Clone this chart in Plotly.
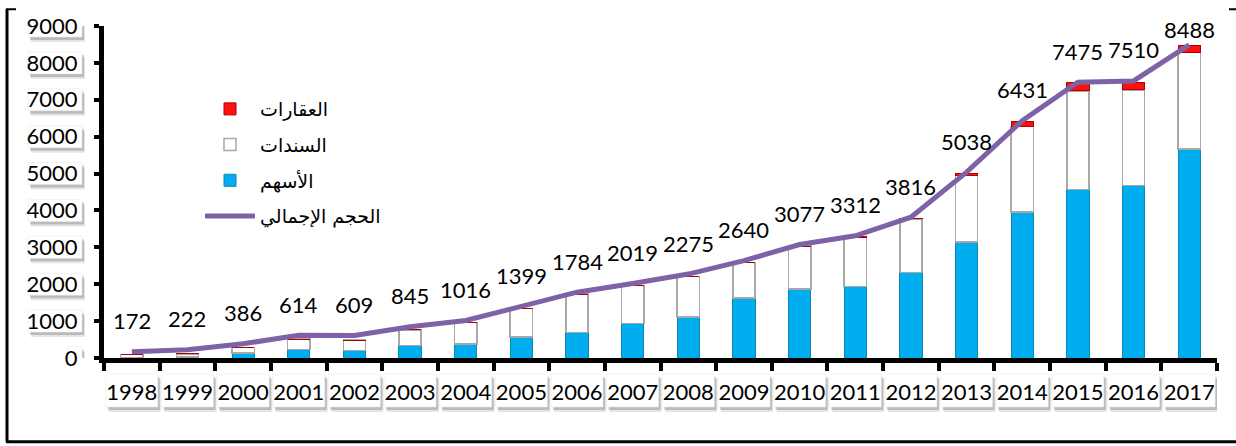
import plotly.graph_objects as go

years = [str(y) for y in range(1998, 2018)]
stocks = [20, 30, 130, 227, 200, 334, 380, 575, 690, 930, 1110, 1626, 1877, 1939, 2321, 3142, 3960, 4567, 4674, 5663]
bonds = [70, 80, 160, 286, 287, 428, 577, 767, 1043, 1035, 1096, 962, 1158, 1340, 1450, 1818, 2318, 2673, 2593, 2620]
real_estate = [0, 0, 0, 0, 0, 0, 0, 0, 0, 0, 0, 0, 0, 15, 20, 40, 145, 225, 214, 187]
totals = [172, 222, 386, 614, 609, 845, 1016, 1399, 1784, 2019, 2275, 2640, 3077, 3312, 3816, 5038, 6431, 7475, 7510, 8488]
y_ticks = list(range(0, 9001, 1000))

names = {"total": "الحجم الإجمالي", "stocks": "الأسهم", "bonds": "السندات", "re": "العقارات"}

WIDTH, HEIGHT = 1236, 446
L, R, T, B = 104, 19, 21, 88
W = WIDTH - L - R
H = HEIGHT - T - B

def xp(px):
    return (px - L) / W

def yp(py):
    return (HEIGHT - B - py) / H

FONT = "Lato, 'DejaVu Sans', sans-serif"

fig = go.Figure()
fig.add_trace(go.Scatter(x=years, y=totals, name=names["total"], mode="lines", legendrank=4, legendgroup="g4",
                         line=dict(color="#7E62A6", width=5)))
fig.add_trace(go.Bar(x=years, y=stocks, name=names["stocks"], legendrank=3, legendgroup="g3",
                     marker=dict(color="#00AEEF", line=dict(color="#1186B0", width=1))))
fig.add_trace(go.Bar(x=years, y=bonds, name=names["bonds"], legendrank=2, legendgroup="g2",
                     marker=dict(color="#FFFFFF", line=dict(color="#A8A8A8", width=1.5))))
fig.add_trace(go.Bar(x=years, y=real_estate, name=names["re"], legendrank=1, legendgroup="g1",
                     marker=dict(color="#FF1010", line=dict(color="#B00000", width=1))))

ymax = 9000
for i, v in enumerate(totals):
    shift = 31 if v < 0.9 * ymax else 15
    fig.add_annotation(x=i, y=v, xref="x", yref="y", text=str(v), showarrow=False, yshift=shift,
                       xanchor="center", yanchor="middle",
                       font=dict(family=FONT, size=22, color="#000000"))

shapes = []
# x tick-label boxes with shadows (anchored at category index)
for i, yr in enumerate(years):
    for dx, dy, col in [(3, -5, "rgba(0,0,0,0.10)"), (2, -3, "rgba(0,0,0,0.18)")]:
        shapes.append(dict(type="rect", xref="x", yref="paper", xsizemode="pixel", ysizemode="pixel",
                           xanchor=i, yanchor=0, x0=-26 + dx, x1=26 + dx, y0=-16 + dy, y1=-49 + dy,
                           fillcolor=col, line=dict(width=0), layer="below"))
    shapes.append(dict(type="rect", xref="x", yref="paper", xsizemode="pixel", ysizemode="pixel",
                       xanchor=i, yanchor=0, x0=-26, x1=26, y0=-16, y1=-49,
                       fillcolor="white", line=dict(color="#E6E6E6", width=0.5), layer="below"))
# y tick-label boxes with shadows
for v in y_ticks:
    w = 13 * len(str(v)) + 2
    for dx, dy, col in [(3, -5, "rgba(0,0,0,0.10)"), (2, -3, "rgba(0,0,0,0.18)")]:
        shapes.append(dict(type="rect", xref="paper", yref="y", xsizemode="pixel", ysizemode="pixel",
                           xanchor=0, yanchor=v, x0=-22 - w + dx, x1=-22 + dx, y0=-11 + dy, y1=11 + dy,
                           fillcolor=col, line=dict(width=0), layer="below"))
    shapes.append(dict(type="rect", xref="paper", yref="y", xsizemode="pixel", ysizemode="pixel",
                       xanchor=0, yanchor=v, x0=-22 - w, x1=-22, y0=-11, y1=11,
                       fillcolor="white", line=dict(color="#E6E6E6", width=0.5), layer="below"))
# outer frame pieces
shapes.append(dict(type="line", xref="paper", yref="paper", x0=xp(7), x1=xp(7), y0=yp(4), y1=yp(443),
                   line=dict(color="black", width=3)))
shapes.append(dict(type="line", xref="paper", yref="paper", x0=xp(6), x1=xp(1236), y0=yp(443), y1=yp(443),
                   line=dict(color="black", width=3)))
shapes.append(dict(type="line", xref="paper", yref="paper", x0=xp(6), x1=xp(16), y0=yp(4), y1=yp(4),
                   line=dict(color="black", width=2)))
shapes.append(dict(type="line", xref="paper", yref="paper", x0=xp(1229), x1=xp(1236), y0=yp(4), y1=yp(4),
                   line=dict(color="black", width=2)))

fig.update_layout(
    width=WIDTH, height=HEIGHT,
    margin=dict(l=L, r=R, t=T, b=B),
    paper_bgcolor="white", plot_bgcolor="white",
    barmode="stack", bargap=0.6,
    font=dict(family=FONT, size=21, color="black"),
    shapes=shapes,
    showlegend=True,
    legend=dict(x=xp(200), y=yp(86), xanchor="left", yanchor="top",
                traceorder="grouped", itemwidth=50, tracegroupgap=8,
                bgcolor="rgba(0,0,0,0)", font=dict(family="'DejaVu Sans', sans-serif", size=19)),
    xaxis=dict(type="category", categoryorder="array", categoryarray=years,
               range=[-0.5, len(years) - 0.5], autorange=False,
               showline=True, linecolor="black", linewidth=5, tickangle=0,
               ticks="outside", tickson="boundaries", ticklen=8, tickwidth=4, tickcolor="black",
               showgrid=False, tickfont=dict(family=FONT, size=22), ticklabelstandoff=11),
    yaxis=dict(range=[0, ymax], autorange=False, tickvals=y_ticks, showline=True, linecolor="black", linewidth=5,
               ticks="outside", ticklen=5, tickwidth=4, tickcolor="black", showgrid=False,
               zeroline=False, tickfont=dict(family=FONT, size=22), ticklabelstandoff=12),
)

fig.write_html("out.html")
